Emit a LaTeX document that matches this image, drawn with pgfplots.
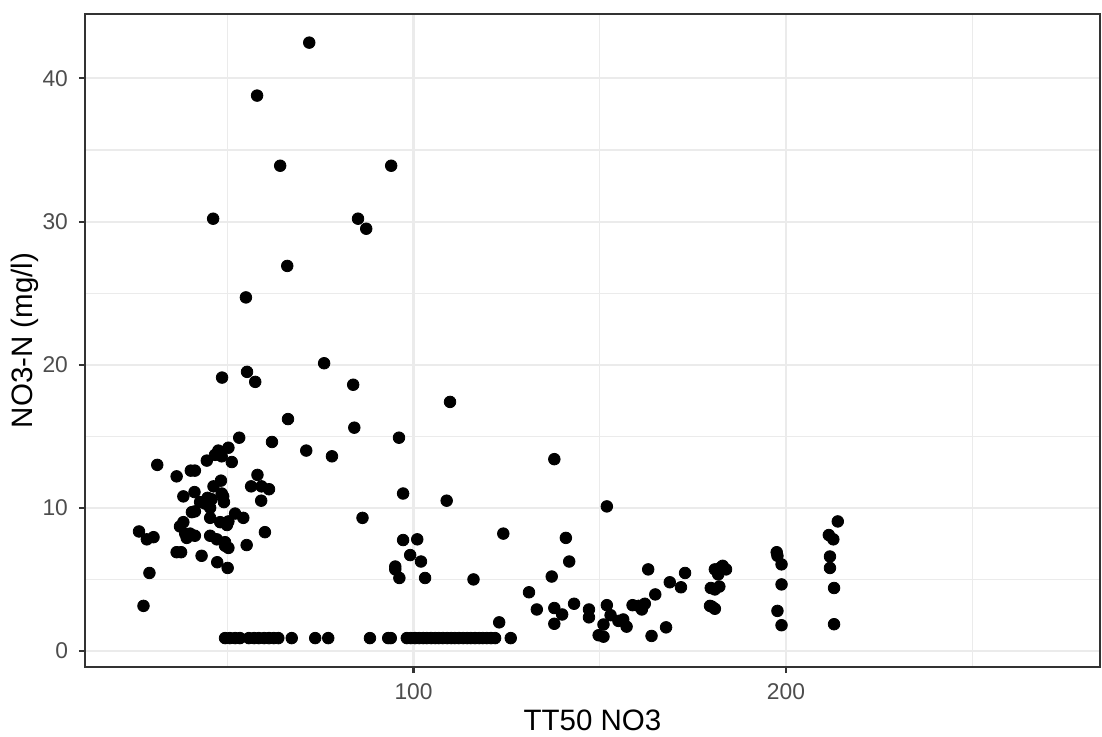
\documentclass[border=0pt]{standalone}
\usepackage{pgfplots}
\pgfplotsset{compat=1.18}
\usepackage{fontspec}
\setmainfont{Liberation Sans}
\definecolor{grey20}{HTML}{333333}
\definecolor{grey30}{HTML}{4D4D4D}
\definecolor{grey92}{HTML}{EBEBEB}
\begin{document}
\begin{tikzpicture}
\path[use as bounding box] (0,0) rectangle (551pt,368pt);
\begin{axis}[
  at={(42.5pt,34.5pt)}, anchor=south west,
  scale only axis, width=507.5pt, height=326.5pt,
  xmin=11.8, xmax=284.3, ymin=-1.12, ymax=44.5,
  xtick={100,200}, minor xtick={50,150,250},
  ytick={0,10,20,30,40}, minor ytick={5,15,25,35},
  grid=both,
  major grid style={color=grey92, line width=1.05pt},
  minor grid style={color=grey92, line width=0.55pt},
  tick align=outside,
  major tick length=3pt, minor tick length=0pt,
  tick style={color=grey20, line width=1.05pt},
  axis line style={color=grey20, line width=1.05pt},
  xtick pos=bottom, ytick pos=left,
  /pgf/number format/assume math mode=true,
  ticklabel style={font=\fontsize{11.4}{13}\selectfont, text=grey30},
  xticklabel style={yshift=-2pt},
  yticklabel style={xshift=-2pt},
  every axis x label/.style={at={(axis description cs:0.5,-0.0812)},anchor=center,font=\fontsize{14.75}{17}\selectfont},
  every axis y label/.style={at={(axis description cs:-0.0591,0.5)},rotate=90,anchor=center,font=\fontsize{14.75}{17}\selectfont},
  xlabel={TT50 NO3},
  ylabel={NO3-N (mg/l)},
]
\addplot[only marks, mark=*, mark size=2.9pt, mark options={draw=none, fill=black}] table {
x y
72.0 42.5
58.0 38.8
64.2 33.9
94.0 33.9
46.2 30.2
85.1 30.2
87.3 29.5
66.1 26.9
55.0 24.7
76.0 20.1
55.3 19.5
48.6 19.1
57.5 18.8
83.8 18.6
109.8 17.4
66.3 16.2
84.1 15.6
96.1 14.9
53.2 14.9
62.0 14.6
71.2 14.0
78.1 13.6
137.8 13.4
50.3 14.2
47.6 14.0
46.7 13.7
48.5 13.6
44.5 13.3
51.2 13.2
31.2 13.0
40.2 12.6
41.3 12.6
36.4 12.2
58.1 12.3
48.3 11.9
56.4 11.5
59.2 11.5
61.2 11.3
46.3 11.5
41.2 11.1
48.5 11.0
48.9 10.8
38.2 10.8
44.7 10.7
45.8 10.6
59.1 10.5
42.7 10.4
44.0 10.3
49.1 10.4
40.5 9.7
41.3 9.75
45.4 10.0
45.4 9.3
52.1 9.6
54.3 9.3
38.2 9.0
37.3 8.7
48.1 9.0
50.3 9.05
49.9 8.8
26.3 8.35
60.1 8.3
38.7 8.2
40.0 8.2
41.3 8.05
45.4 8.05
28.4 7.8
30.2 7.95
39.1 7.9
47.2 7.8
49.4 7.6
50.3 7.2
49.4 7.35
55.2 7.4
36.4 6.9
37.6 6.9
43.1 6.65
47.3 6.2
50.1 5.8
29.1 5.45
27.5 3.15
97.2 11.0
108.9 10.5
86.3 9.3
97.2 7.75
101.0 7.8
99.1 6.7
102.0 6.25
95.1 5.9
95.1 5.7
96.2 5.1
103.1 5.1
116.1 5.0
124.1 8.2
123.0 2.0
151.9 10.1
140.9 7.9
141.8 6.25
137.1 5.2
131.0 4.1
163.0 5.7
172.9 5.45
168.8 4.8
171.8 4.45
164.9 3.95
133.1 2.9
137.8 3.0
139.9 2.55
137.8 1.9
143.1 3.3
147.1 2.9
147.1 2.35
151.9 3.2
152.9 2.5
151.0 1.85
149.7 1.1
151.0 1.0
155.0 2.1
156.3 2.2
157.2 1.7
158.8 3.2
160.4 3.15
161.3 2.9
162.1 3.3
163.9 1.05
167.8 1.65
180.9 5.7
182.3 5.8
183.0 5.95
183.9 5.7
181.8 5.35
179.8 4.4
180.9 4.3
182.1 4.5
179.6 3.15
180.9 2.95
180.1 3.1
197.5 6.9
197.7 6.65
198.8 6.05
198.8 4.65
197.7 2.8
198.8 1.8
213.9 9.05
211.5 8.1
212.7 7.8
211.8 6.6
211.8 5.8
212.9 4.4
212.9 1.87
49.4 0.9
50.7 0.9
52.1 0.9
53.4 0.9
55.8 0.9
57.2 0.9
58.5 0.9
59.9 0.9
61.2 0.9
62.5 0.9
63.7 0.9
67.3 0.9
73.6 0.9
77.1 0.9
88.3 0.9
93.2 0.9
93.9 0.9
98.2 0.9
99.3 0.9
100.4 0.9
101.5 0.9
102.6 0.9
103.6 0.9
104.7 0.9
105.8 0.9
106.8 0.9
107.9 0.9
109.0 0.9
110.1 0.9
111.1 0.9
112.2 0.9
113.3 0.9
114.4 0.9
115.4 0.9
116.5 0.9
117.6 0.9
118.6 0.9
119.7 0.9
120.8 0.9
121.9 0.9
126.1 0.9
};
\end{axis}
\end{tikzpicture}
\end{document}
